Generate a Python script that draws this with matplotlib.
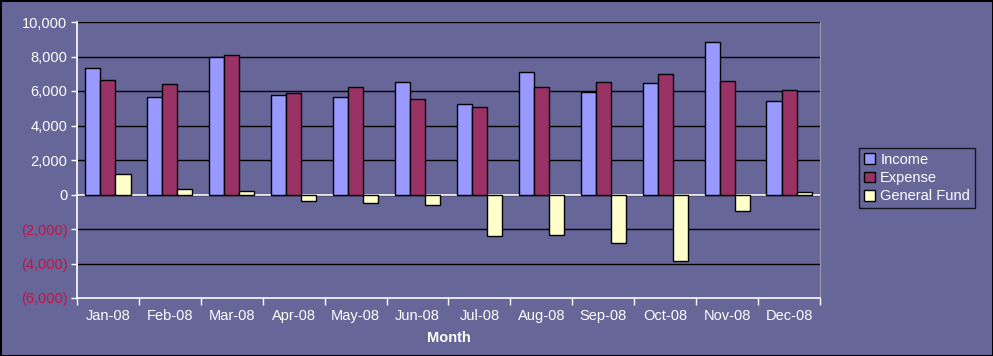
import numpy as np
import matplotlib.pyplot as plt
from matplotlib.ticker import FixedLocator, FuncFormatter

# values
months = ["Jan-08", "Feb-08", "Mar-08", "Apr-08", "May-08", "Jun-08",
          "Jul-08", "Aug-08", "Sep-08", "Oct-08", "Nov-08", "Dec-08"]
income = [7350, 5650, 8000, 5780, 5640, 6530, 5240, 7110, 5930, 6470, 8850, 5430]
expense = [6650, 6420, 8100, 5900, 6240, 5550, 5080, 6240, 6530, 7000, 6590, 6070]
general_fund = [1160, 330, 210, -360, -480, -580, -2380, -2320, -2800, -3850, -950, 160]

bg = "#666699"
colors = ["#9999FF", "#993366", "#FFFFCC"]
names = ["Income", "Expense", "General Fund"]

plt.rcParams['font.family'] = ['Liberation Sans', 'DejaVu Sans']

fig = plt.figure(figsize=(9.93, 3.56), dpi=100)
fig.patch.set_facecolor(bg)
fig.patch.set_edgecolor("black")
fig.patch.set_linewidth(2)

ax = fig.add_axes([77/993, 58/356, 743/993, 276/356])
ax.set_facecolor(bg)

x = np.arange(len(months))
w = 0.243
for i, (vals, c, n) in enumerate(zip([income, expense, general_fund], colors, names)):
    ax.bar(x + (i - 1) * w, vals, w, color=c, edgecolor="black", linewidth=1,
           label=n, zorder=3)

ax.set_xlim(-0.5, len(months) - 0.5)
ax.set_ylim(-6000, 10000)
ax.set_yticks(np.arange(-6000, 10001, 2000))
ax.yaxis.grid(True, color="black", linewidth=1)
ax.set_axisbelow(True)
ax.axhline(0, color="white", linewidth=1.2, zorder=2)

def fmt(v, pos):
    if v < 0:
        return "({:,.0f})".format(-v)
    return "{:,.0f}".format(v)

ax.yaxis.set_major_formatter(FuncFormatter(fmt))
ax.tick_params(axis="y", colors="white", labelsize=10.5, length=4, width=1, pad=3)
for lab, v in zip(ax.get_yticklabels(), ax.get_yticks()):
    lab.set_color("#CC1144" if v < 0 else "white")

ax.set_xticks(x)
ax.set_xticklabels(months)
ax.xaxis.set_minor_locator(FixedLocator(np.arange(-0.5, len(months), 1)))
ax.tick_params(axis="x", which="major", length=0, colors="white", labelsize=10.5, pad=8)
ax.tick_params(axis="x", which="minor", length=5, width=1, color="white")

for s in ["left", "bottom"]:
    ax.spines[s].set_color("white")
    ax.spines[s].set_linewidth(1.2)
ax.spines["top"].set_visible(False)
ax.spines["right"].set_color("#9999aa")
ax.spines["right"].set_linewidth(0.8)

ax.set_xlabel("Month", color="white", fontsize=10.5, fontweight="bold", labelpad=6)

leg = ax.legend(loc="center left", bbox_to_anchor=(859/993, 1 - 178/356),
                bbox_transform=fig.transFigure, frameon=True, fancybox=False,
                fontsize=10.5, handlelength=0.75, handleheight=0.75,
                handletextpad=0.35, borderpad=0.35, labelspacing=0.3,
                borderaxespad=0)
leg.get_frame().set_facecolor(bg)
leg.get_frame().set_edgecolor("black")
leg.get_frame().set_linewidth(1)
for t in leg.get_texts():
    t.set_color("white")

fig.savefig("out.png", dpi=100, facecolor=fig.get_facecolor(), edgecolor=fig.get_edgecolor())
